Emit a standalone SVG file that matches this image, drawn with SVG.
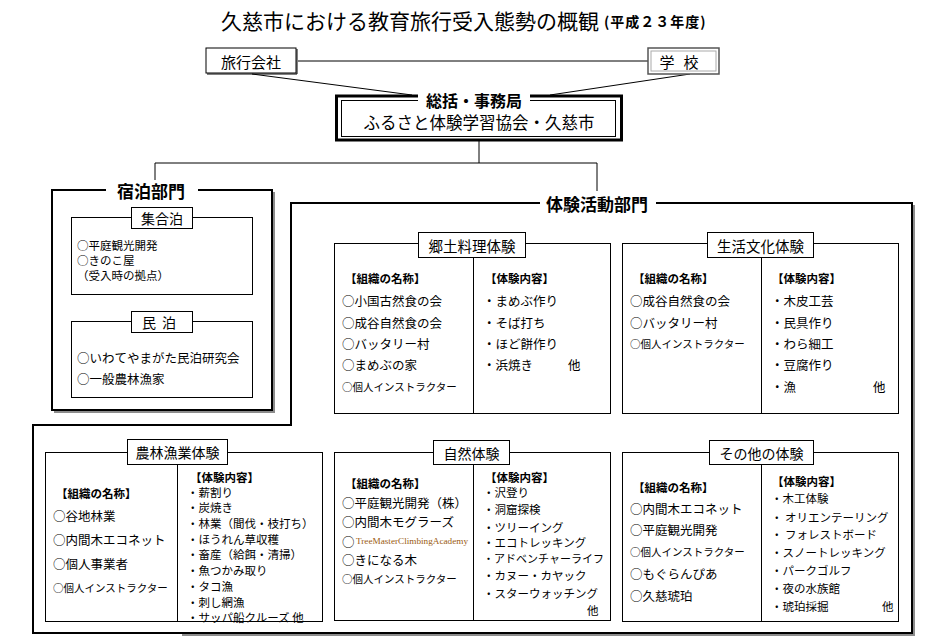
<svg xmlns="http://www.w3.org/2000/svg" width="938" height="642" viewBox="0 0 938 642">
<defs>
<style>
text{font-family:"Noto Sans CJK JP","Noto Sans CJK SC",sans-serif;fill:#000;dominant-baseline:central}
.box{fill:#fff;stroke:#000;stroke-width:1}
.lbl{fill:#fff;stroke:#000;stroke-width:1}
.ln{stroke:#000;stroke-width:1;fill:none}
.frame{fill:none;stroke:#000;stroke-width:2}
.shadow{fill:none;stroke:#8c8c8c;stroke-width:2}
.t{font-size:12.5px}
.s{font-size:10.5px}
.r{font-size:11.5px}
.h{font-size:11.5px;font-weight:bold}
.lt{font-size:14px;text-anchor:middle}
.sec{font-size:17px;font-weight:bold;text-anchor:middle}
</style>
</defs>
<rect width="938" height="642" fill="#fff"/>

<g id="title">
<text x="221" y="20" style="font-size:21px">久慈市における教育旅行受入態勢の概観</text>
<text x="604" y="21" style="font-size:14px;font-weight:bold;letter-spacing:1px">(平成２３年度)</text>
</g>

<g id="connectors">
<line class="ln" x1="298" y1="61" x2="648" y2="61"/>
<line class="ln" x1="252" y1="74" x2="412" y2="95"/>
<line class="ln" x1="690" y1="74" x2="550" y2="95"/>
<line class="ln" x1="479" y1="141" x2="479" y2="163"/>
<line class="ln" x1="155" y1="163" x2="597" y2="163"/>
<line class="ln" x1="155" y1="163" x2="155" y2="181"/>
<line class="ln" x1="597" y1="163" x2="597" y2="191"/>
</g>

<g id="node-travel">
<rect x="206" y="48" width="90" height="25" class="box" stroke-width="1.5"/>
<polyline class="ln" points="207,74 297,74 297,49" stroke-width="1.5"/>
<text x="251" y="61" style="font-size:15px;text-anchor:middle">旅行会社</text>
</g>

<g id="node-school">
<rect x="648" y="48" width="71" height="26" fill="#fff" stroke="#555" stroke-width="1.5"/>
<rect x="651" y="51" width="65" height="20" fill="none" stroke="#aaa" stroke-width="1"/>
<text x="683.5" y="61" style="font-size:15px;text-anchor:middle;letter-spacing:9px">学校</text>
</g>

<g id="node-hq">
<rect x="336.5" y="96" width="285" height="44" fill="#fff" stroke="#000" stroke-width="3"/>
<rect x="341.5" y="100.5" width="274" height="36" fill="none" stroke="#000" stroke-width="1"/>
<rect x="418" y="90" width="112" height="18" fill="#fff"/>
<text x="474" y="99.5" style="font-size:16px;font-weight:bold;text-anchor:middle">総括・事務局</text>
<text x="479" y="122" style="font-size:16.5px;text-anchor:middle">ふるさと体験学習協会・久慈市</text>
</g>

<g id="node-lodging">
<polyline class="shadow" points="274,192 274,412 54,412"/>
<rect x="52" y="190" width="220" height="220" class="frame" fill="#fff"/>
<rect x="106" y="180" width="92" height="20" fill="#fff"/>
<text x="151" y="190" class="sec">宿泊部門</text>

<g id="node-group-stay">
<rect x="71.5" y="217.5" width="181" height="77" class="box"/>
<rect x="131.5" y="207.5" width="61" height="21" class="lbl"/>
<text x="162" y="218" class="lt">集合泊</text>
<text x="77" y="245" style="font-size:11.5px">○平庭観光開発</text>
<text x="77" y="260" style="font-size:11.5px">○きのこ屋</text>
<text x="77" y="275" style="font-size:11.5px">（受入時の拠点）</text>
</g>

<g id="node-minpaku">
<rect x="71.5" y="321.5" width="181" height="76" class="box"/>
<rect x="131.5" y="311.5" width="61" height="21" class="lbl"/>
<text x="162" y="322" class="lt" style="letter-spacing:6px">民泊</text>
<text x="77" y="357" class="t">○いわてやまがた民泊研究会</text>
<text x="77" y="378" class="t">○一般農林漁家</text>
</g>
</g>

<g id="node-activity">
<polyline class="shadow" points="914,205 914,635 182,635"/>
<path d="M291,203 H912 V633 H33 V425 H291 Z" class="frame"/>
<rect x="540" y="192" width="116" height="22" fill="#fff"/>
<text x="597" y="203" class="sec">体験活動部門</text>
</g>

<g id="node-kyodo">
<rect x="334.5" y="243.5" width="276" height="170" class="box"/>
<line class="ln" x1="473.5" y1="257" x2="473.5" y2="413"/>
<rect x="418.5" y="232.5" width="107" height="25" class="lbl"/>
<text x="472" y="245" class="lt" style="font-size:14.5px">郷土料理体験</text>
<text x="345" y="278" class="h">【組織の名称】</text>
<text x="342" y="300" class="t">○小国古然食の会</text>
<text x="342" y="322" class="t">○成谷自然食の会</text>
<text x="342" y="343" class="t">○バッタリー村</text>
<text x="342" y="364" class="t">○まめぶの家</text>
<text x="342" y="386" class="s">○個人インストラクター</text>
<text x="485" y="278" class="h">【体験内容】</text>
<text x="483" y="300" class="t">・まめぶ作り</text>
<text x="483" y="322" class="t">・そば打ち</text>
<text x="483" y="343" class="t">・ほど餅作り</text>
<text x="483" y="364" class="t">・浜焼き</text>
<text x="568" y="364" class="t">他</text>
</g>

<g id="node-seikatsu">
<rect x="622.5" y="243.5" width="276" height="170" class="box"/>
<line class="ln" x1="761.5" y1="257" x2="761.5" y2="413"/>
<rect x="707.5" y="232.5" width="106" height="25" class="lbl"/>
<text x="760.5" y="245" class="lt" style="font-size:14.5px">生活文化体験</text>
<text x="633" y="278" class="h">【組織の名称】</text>
<text x="630" y="300" class="t">○成谷自然食の会</text>
<text x="630" y="322" class="t">○バッタリー村</text>
<text x="630" y="343" class="s">○個人インストラクター</text>
<text x="772" y="278" class="h">【体験内容】</text>
<text x="771" y="300" class="t">・木皮工芸</text>
<text x="771" y="322" class="t">・民具作り</text>
<text x="771" y="343" class="t">・わら細工</text>
<text x="771" y="364" class="t">・豆腐作り</text>
<text x="771" y="386" class="t">・漁</text>
<text x="873" y="386" class="t">他</text>
</g>

<g id="node-nourin">
<rect x="45.5" y="452.5" width="277" height="169" class="box"/>
<line class="ln" x1="177.5" y1="464" x2="177.5" y2="621"/>
<rect x="127.5" y="439.5" width="100" height="25" class="lbl"/>
<text x="177.5" y="452" class="lt">農林漁業体験</text>
<text x="56" y="493" class="h">【組織の名称】</text>
<text x="53" y="515" class="t">○谷地林業</text>
<text x="53" y="539" class="t">○内間木エコネット</text>
<text x="53" y="563" class="t">○個人事業者</text>
<text x="53" y="587" class="s">○個人インストラクター</text>
<text x="190" y="477" class="h">【体験内容】</text>
<text x="187" y="492" class="r">・薪割り</text>
<text x="187" y="507" class="r">・炭焼き</text>
<text x="187" y="523" class="r">・林業（間伐・枝打ち）</text>
<text x="187" y="539" class="r">・ほうれん草収穫</text>
<text x="187" y="554" class="r">・畜産（給餌・清掃）</text>
<text x="187" y="570" class="r">・魚つかみ取り</text>
<text x="187" y="586" class="r">・タコ漁</text>
<text x="187" y="602" class="r">・刺し網漁</text>
<text x="187" y="617" class="r">・サッパ船クルーズ 他</text>
</g>

<g id="node-shizen">
<rect x="334.5" y="452.5" width="276" height="168" class="box"/>
<line class="ln" x1="473.5" y1="464" x2="473.5" y2="620"/>
<rect x="433.5" y="440.5" width="76" height="24" class="lbl"/>
<text x="471.5" y="452.5" class="lt">自然体験</text>
<text x="345" y="483" class="h">【組織の名称】</text>
<text x="342" y="502" class="t">○平庭観光開発（株）</text>
<text x="342" y="521" class="t">○内間木モグラーズ</text>
<text x="342" y="541" class="t">○</text>
<text x="356" y="541" textLength="112" lengthAdjust="spacingAndGlyphs" style="font-family:'Liberation Serif',serif;font-size:9px;fill:#9a5a10">TreeMasterClimbingAcademy</text>
<text x="342" y="559" class="t">○きになる木</text>
<text x="342" y="578" class="s">○個人インストラクター</text>
<text x="485" y="477" class="h">【体験内容】</text>
<text x="483" y="492" class="r">・沢登り</text>
<text x="483" y="509" class="r">・洞窟探検</text>
<text x="483" y="527" class="r">・ツリーイング</text>
<text x="483" y="542" class="r">・エコトレッキング</text>
<text x="483" y="558" style="font-size:11px">・アドベンチャーライフ</text>
<text x="483" y="575" class="r">・カヌー・カヤック</text>
<text x="483" y="593" class="r">・スターウォッチング</text>
<text x="587" y="610" class="r">他</text>
</g>

<g id="node-other">
<rect x="622.5" y="452.5" width="276" height="169" class="box"/>
<line class="ln" x1="761.5" y1="464" x2="761.5" y2="621"/>
<rect x="709.5" y="440.5" width="104" height="24" class="lbl"/>
<text x="761.5" y="452.5" class="lt">その他の体験</text>
<text x="633" y="487" class="h">【組織の名称】</text>
<text x="630" y="508" class="t">○内間木エコネット</text>
<text x="630" y="529" class="t">○平庭観光開発</text>
<text x="630" y="551" class="s">○個人インストラクター</text>
<text x="630" y="573" class="t">○もぐらんぴあ</text>
<text x="630" y="595" class="t">○久慈琥珀</text>
<text x="772" y="481" class="h">【体験内容】</text>
<text x="771" y="498" class="r">・木工体験</text>
<text x="771" y="517" class="r">・ オリエンテーリング</text>
<text x="771" y="534" class="r">・ フォレストボード</text>
<text x="771" y="552" class="r">・スノートレッキング</text>
<text x="771" y="570" class="r">・パークゴルフ</text>
<text x="771" y="588" class="r">・夜の水族館</text>
<text x="771" y="606" class="r">・琥珀採掘</text>
<text x="882" y="606" class="r">他</text>
</g>
</svg>
